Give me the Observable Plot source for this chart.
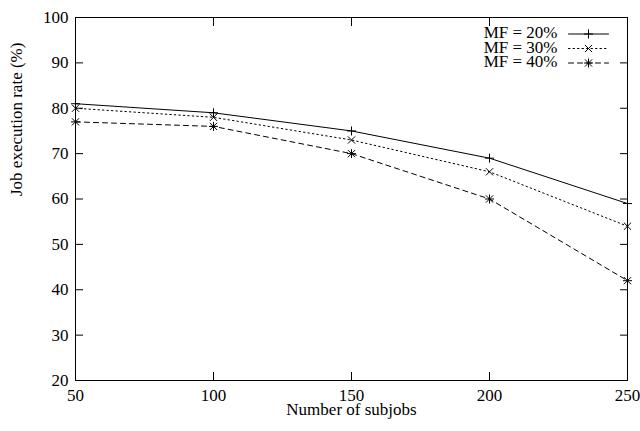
<!DOCTYPE html>
<html>
<head>
<meta charset="utf-8">
<script src="https://cdn.jsdelivr.net/npm/d3@7"></script>
<script src="https://cdn.jsdelivr.net/npm/@observablehq/plot@0.6"></script>
<style>
  html, body { margin: 0; padding: 0; background: white; }
  svg, svg text { font-family: "Liberation Serif", "Times New Roman", Times, "DejaVu Serif", serif !important; }
</style>
</head>
<body>
<div id="chart"></div>
<script>
// ---- data ----
const subjobs = [50, 100, 150, 200, 250];
const seriesNames = ["MF = 20%", "MF = 30%", "MF = 40%"];
const mf20 = [81, 79, 75, 69, 59];
const mf30 = [80, 78, 73, 66, 54];
const mf40 = [77, 76, 70, 60, 42];
const xTicks = [50, 100, 150, 200, 250];
const yTicks = [20, 30, 40, 50, 60, 70, 80, 90, 100];
const xLabel = "Number of subjobs";
const yLabel = "Job execution rate (%)";

// ---- symbols ----
const symPlus = {draw(c, size) { const r = Math.sqrt(size / Math.PI);
  c.moveTo(-r, 0); c.lineTo(r, 0); c.moveTo(0, -r); c.lineTo(0, r); }};
const symCross = {draw(c, size) { const r = Math.sqrt(size / Math.PI) * 0.8;
  c.moveTo(-r, -r); c.lineTo(r, r); c.moveTo(-r, r); c.lineTo(r, -r); }};
const symStar = {draw(c, size) { const r = Math.sqrt(size / Math.PI); const d = r * 0.8;
  c.moveTo(-r, 0); c.lineTo(r, 0); c.moveTo(0, -r); c.lineTo(0, r);
  c.moveTo(-d, -d); c.lineTo(d, d); c.moveTo(-d, d); c.lineTo(d, -d); }};
const lineShape = {draw(c, l) { c.moveTo(0, 0); c.lineTo(0, -l); }};

const seriesValues = [mf20, mf30, mf40];
const styles = [
  {dash: null, symbol: symPlus},
  {dash: "1.5,3", symbol: symCross},
  {dash: "5,4", symbol: symStar}
];

const series = seriesNames.map((name, i) =>
  subjobs.map((x, j) => ({series: name, x, y: seriesValues[i][j]})));

const marks = [
  Plot.axisY({anchor: "left", ticks: yTicks, tickSize: 8, insetLeft: 8, tickPadding: 7, label: null, fontSize: 17}),
  Plot.axisY({anchor: "right", ticks: yTicks, tickSize: 8, insetRight: 8, tickFormat: () => "", label: null}),
  Plot.axisX({anchor: "bottom", ticks: xTicks, tickSize: 8, insetBottom: 8, tickPadding: 8, label: null, fontSize: 17}),
  Plot.axisX({anchor: "top", ticks: xTicks, tickSize: 8, insetTop: 8, tickFormat: () => "", label: null}),
  Plot.text([yLabel], {frameAnchor: "left", rotate: -90, dx: -59, dy: -3, fontSize: 17}),
  Plot.text([xLabel], {frameAnchor: "bottom", dy: 29, lineAnchor: "middle", fontSize: 17})
];

series.forEach((rows, i) => {
  marks.push(Plot.line(rows, {x: "x", y: "y", stroke: "black", strokeWidth: 1, strokeDasharray: styles[i].dash}));
  marks.push(Plot.dot(rows, {x: "x", y: "y", r: 4.5, symbol: styles[i].symbol, fill: "none", stroke: "black", strokeWidth: 1}));
});

// legend (top-right inside the frame)
seriesNames.forEach((name, i) => {
  const rowDy = 16.5 + i * 14.5;
  marks.push(Plot.text([name], {frameAnchor: "top-right", dx: -70, dy: rowDy - 1, textAnchor: "end", lineAnchor: "middle", fontSize: 17}));
  marks.push(Plot.vector([0], {frameAnchor: "top-right", dx: -39, dy: rowDy, length: 40, rotate: 90, anchor: "middle", shape: lineShape, stroke: "black", strokeWidth: 1, strokeDasharray: styles[i].dash}));
  marks.push(Plot.dot([0], {frameAnchor: "top-right", dx: -39, dy: rowDy, r: 4.5, symbol: styles[i].symbol, fill: "none", stroke: "black", strokeWidth: 1}));
});

marks.push(Plot.frame({stroke: "black", strokeWidth: 1}));

const chart = Plot.plot({
  width: 640,
  height: 431,
  marginLeft: 75,
  marginRight: 13,
  marginTop: 17,
  marginBottom: 51,
  x: {domain: [50, 250]},
  y: {domain: [20, 100]},
  style: {fontFamily: "'Liberation Serif', serif", fontSize: "17px", color: "black", background: "white"},
  marks
});
document.getElementById("chart").appendChild(chart);
</script>
</body>
</html>
